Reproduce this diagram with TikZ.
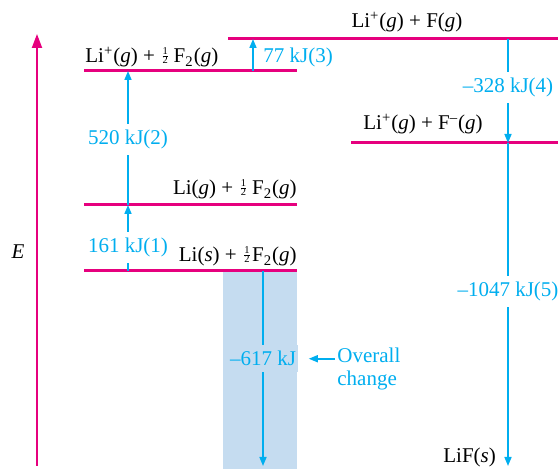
\documentclass[tikz,border=0pt]{standalone}
\usepackage{fontspec}
\usepackage{amsmath}
\setmainfont{Liberation Serif}
\usetikzlibrary{arrows.meta}
\definecolor{lvlpink}{RGB}{230,0,126}
\definecolor{stepblue}{RGB}{0,174,239}
\definecolor{shadeblue}{RGB}{197,220,240}
\newcommand{\onehalf}{\raisebox{0.45ex}{$\scriptscriptstyle\frac{\text{1}}{\text{2}}$}}
\tikzset{
  level/.style={draw=lvlpink,line width=1.5pt},
  enarrow/.style={draw=stepblue,line width=0.8pt,-{Triangle[width=3.5pt,length=4.5pt]}},
  enlabel/.style={text=stepblue,fill=white,inner xsep=1pt,inner ysep=3pt},
  species/.style={inner sep=0pt}
}

\begin{document}
\begin{tikzpicture}[x=0.5pt,y=-0.5pt,font=\fontsize{10.5}{11.5}\selectfont]
\useasboundingbox (0,0) rectangle (558,469);
\fill[shadeblue] (223,271) rectangle (297,469);
\coordinate (axisbot) at (37,466);
\coordinate (axistop) at (37,34);
\draw[lvlpink,line width=1pt,-{Triangle[width=5pt,length=7pt]}] (axisbot) -- (axistop);
\node (E) at (18,252) {\textit{E}};
\draw[level] (84,271) -- (297,271);
\draw[level] (84,205) -- (297,205);
\draw[level] (84,71) -- (297,71);
\draw[level] (228,39) -- (558,39);
\draw[level] (351,143) -- (558,143);
\node[species,anchor=base] (LiFg) at (407,28) {Li\textsuperscript{+}(\textit{g}) + F(\textit{g})};
\node[species,anchor=base west] (Liion) at (85,63) {Li\textsuperscript{+}(\textit{g}) + \onehalf\,F\textsubscript{2}(\textit{g})};
\node[species,anchor=base west] (LiFm) at (363,130) {Li\textsuperscript{+}(\textit{g}) + F\textsuperscript{--}(\textit{g})};
\node[species,anchor=base east] (Ligas) at (297,195) {Li(\textit{g}) + \onehalf\,F\textsubscript{2}(\textit{g})};
\node[species,anchor=base east] (Lisol) at (297,262) {Li(\textit{s}) + \onehalf F\textsubscript{2}(\textit{g})};
\node[species,anchor=base west] (LiFs) at (443,463) {LiF(\textit{s})};
\coordinate (a1) at (128,271);
\coordinate (b1) at (128,205);
\coordinate (b2) at (128,71);
\coordinate (c3) at (253,71);
\coordinate (d3) at (253,39);
\coordinate (e4) at (508,39);
\coordinate (f4) at (508,143);
\coordinate (g5) at (508,466);
\coordinate (h6) at (263,271);
\coordinate (i6) at (263,466);
\draw[enarrow] (a1) -- node[enlabel,pos=0.36] (k1) {161 kJ(1)} (b1);
\draw[enarrow] (b1) -- node[enlabel,pos=0.49] (k2) {520 kJ(2)} (b2);
\draw[enarrow] (c3) -- (d3);
\node[species,text=stepblue,anchor=base west] (k3) at (263,63) {77 kJ(3)};
\draw[enarrow] (e4) -- node[enlabel,pos=0.47] (k4) {--328 kJ(4)} (f4);
\draw[enarrow] (f4) -- node[enlabel,pos=0.46] (k5) {--1047 kJ(5)} (g5);
\draw[enarrow] (h6) -- node[enlabel,fill=shadeblue,pos=0.45] (k6) {--617 kJ} (i6);
\node[text=stepblue,align=left,anchor=north west,inner sep=1pt] (overall) at (335,346) {Overall\\change};
\draw[enarrow,shorten >=5pt] (k6.east -| overall.west) -- (k6.east);
\end{tikzpicture}
\end{document}
